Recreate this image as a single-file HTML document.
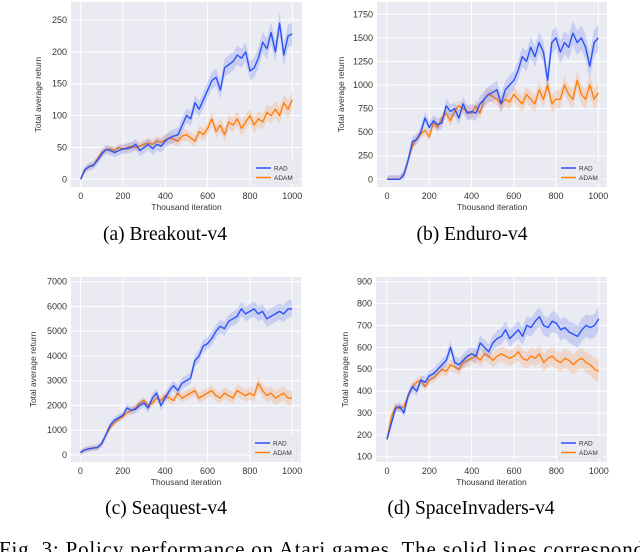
<!DOCTYPE html>
<html><head><meta charset="utf-8">
<style>
html,body{margin:0;padding:0;background:#fff;}
body{width:640px;height:552px;overflow:hidden;position:relative;}
svg{position:absolute;left:0;top:0;}
text{font-family:"Liberation Sans",sans-serif;}
.cap{font-family:"Liberation Serif",serif;}
</style></head>
<body>
<svg id="fig" width="640" height="552" viewBox="0 0 640 552">
<text class="cap" x="165" y="240" font-size="19.5" text-anchor="middle">(a)  Breakout-v4</text>
<text class="cap" x="472" y="240" font-size="19.5" text-anchor="middle">(b)  Enduro-v4</text>
<text class="cap" x="166" y="514" font-size="19.5" text-anchor="middle">(c)  Seaquest-v4</text>
<text class="cap" x="471" y="514" font-size="19.5" text-anchor="middle">(d)  SpaceInvaders-v4</text>
<text class="cap" x="-1" y="556" font-size="21" textLength="645" lengthAdjust="spacing">Fig. 3:  Policy performance on Atari games. The solid lines correspond</text>
</svg>
<script>
// ---- data ----
const xTicks = [0, 200, 400, 600, 800, 1000];
const seriesNames = ["RAD", "ADAM"];

const breakoutRAD = [0,15,20,22,30,40,47,45,42,45,48,48,50,55,45,50,55,48,55,52,60,65,68,70,85,100,95,120,110,125,140,155,160,140,175,180,185,195,190,200,170,175,190,215,205,230,200,245,195,225,228];
const breakoutADAM = [0,15,20,22,32,42,47,48,45,50,47,50,52,50,52,55,57,55,60,58,62,65,63,60,68,70,65,60,75,70,80,95,75,85,70,90,85,95,80,90,100,85,95,90,105,100,110,100,120,110,125];
const breakoutYTicks = [0,50,100,150,200,250];

const enduroRAD = [0,0,0,0,50,200,400,420,500,650,550,620,580,600,780,720,750,650,800,700,720,700,800,850,900,920,950,800,950,1000,1050,1150,1300,1250,1400,1300,1450,1350,1050,1450,1500,1350,1450,1400,1550,1450,1500,1400,1200,1450,1500];
const enduroADAM = [0,0,0,0,50,200,350,430,480,520,450,600,550,650,700,620,720,780,750,720,700,780,700,850,900,880,850,800,850,820,900,850,800,900,850,800,950,850,1000,800,850,850,1000,900,850,1050,900,850,1000,850,920];
const enduroYTicks = [0,250,500,750,1000,1250,1500,1750];

const seaquestRAD = [100,200,250,280,300,450,800,1200,1400,1500,1600,1900,1800,1850,2000,2100,1900,2300,2500,2000,2300,2600,2800,2600,2900,3000,3100,3800,4000,4400,4500,4700,5000,5200,5100,5400,5500,5600,5900,5700,5800,5900,5700,5800,5500,5600,5700,5800,5700,5900,5900];
const seaquestADAM = [100,200,250,280,300,450,800,1100,1300,1450,1550,1700,1800,1900,2100,2200,2000,2100,2300,2200,2400,2300,2200,2500,2300,2400,2500,2600,2300,2400,2500,2600,2400,2300,2500,2400,2300,2600,2500,2400,2500,2400,2900,2600,2400,2500,2300,2400,2500,2300,2300];
const seaquestYTicks = [0,1000,2000,3000,4000,5000,6000,7000];

const invadersRAD = [180,250,320,330,300,380,420,400,450,440,470,480,500,520,540,600,530,520,540,560,570,560,620,600,580,620,640,650,680,640,660,680,650,700,690,720,740,700,690,720,710,680,690,670,660,650,680,700,690,700,730];
const invadersADAM = [180,280,330,320,330,380,420,440,450,420,450,460,480,500,490,520,510,500,530,540,550,560,540,570,560,540,560,570,560,550,560,580,550,540,560,550,570,530,550,560,540,530,550,540,520,540,550,530,520,500,490];
const invadersYTicks = [100,200,300,400,500,600,700,800,900];

const spreads = {breakout:[18,14], enduro:[140,110], seaquest:[350,300], invaders:[55,50]};

// ---- layout ----
const charts = [
  {key:"breakout", rad:breakoutRAD, adam:breakoutADAM, yt:breakoutYTicks,
   box:[71,2,302,187], x0:80.7, x1:292.3, y0v:0, y0p:179.3, y1v:250, y1p:20, ylabX:41},
  {key:"enduro", rad:enduroRAD, adam:enduroADAM, yt:enduroYTicks,
   box:[377,2,607,187], x0:387, x1:598.3, y0v:0, y0p:179.3, y1v:1750, y1p:14.3, ylabX:344},
  {key:"seaquest", rad:seaquestRAD, adam:seaquestADAM, yt:seaquestYTicks,
   box:[71,277,301,462], x0:80.4, x1:292.2, y0v:0, y0p:455, y1v:7000, y1p:281.7, ylabX:36},
  {key:"invaders", rad:invadersRAD, adam:invadersADAM, yt:invadersYTicks,
   box:[376,277,607,462], x0:387, x1:598.8, y0v:100, y0p:456.7, y1v:900, y1p:281.7, ylabX:348}
];
const NS = "http://www.w3.org/2000/svg";
const svg = document.getElementById("fig");
function mk(tag, attrs, parent){ const e=document.createElementNS(NS,tag); for(const k in attrs) e.setAttribute(k,attrs[k]); (parent||svg).appendChild(e); return e; }
const COL = {RAD:"#2a52f5", ADAM:"#ff7f0e"};

charts.forEach(c=>{
  const g = mk("g",{});
  
  
  const [L,T,R,B] = c.box;
  const xs = v => c.x0 + (v/1000)*(c.x1-c.x0);
  const ys = v => c.y0p + (v-c.y0v)/(c.y1v-c.y0v)*(c.y1p-c.y0p);
  const bg = mk("rect",{x:L,y:T,width:R-L,height:B-T,fill:"#eaeaf2"},g);
  
  
  xTicks.forEach(t=>{
    const ln = mk("line",{x1:xs(t),x2:xs(t),y1:T,y2:B,stroke:"#fff","stroke-width":1},g);
    
    
    const tx = mk("text",{x:xs(t),y:B+12,"font-size":9,"text-anchor":"middle",fill:"#333"},g);
    tx.textContent = t;
    
    
  });
  c.yt.forEach(t=>{
    const ln = mk("line",{x1:L,x2:R,y1:ys(t),y2:ys(t),stroke:"#fff","stroke-width":1},g);
    
    
    const tx = mk("text",{x:L-4,y:ys(t)+3,"font-size":9,"text-anchor":"end",fill:"#333"},g);
    tx.textContent = t;
    
    
  });
  const xl = mk("text",{x:(L+R)/2,y:B+23,"font-size":8.5,"text-anchor":"middle",fill:"#333"},g);
  xl.textContent = "Thousand iteration";
  
  
  const cy = (T+B)/2;
  const yl = mk("text",{x:c.ylabX,y:cy,"font-size":8.5,"text-anchor":"middle",fill:"#333",transform:`rotate(-90 ${c.ylabX} ${cy})`},g);
  yl.textContent = "Total average return";
  
  

  [["ADAM",c.adam,spreads[c.key][1]],["RAD",c.rad,spreads[c.key][0]]].forEach(([name,arr,sp])=>{
    const n = arr.length;
    const px = i => xs(i*1000/(n-1));
    let up=[],dn=[];
    arr.forEach((v,i)=>{ const s = sp*(0.3+0.7*i/(n-1)); up.push(px(i).toFixed(1)+","+ys(v+s).toFixed(1)); dn.push(px(i).toFixed(1)+","+ys(Math.max(c.y0v,v-s)).toFixed(1)); });
    const band = mk("polygon",{points:up.concat(dn.reverse()).join(" "),fill:COL[name],"fill-opacity":0.18},g);
    
    
    const pts = arr.map((v,i)=>px(i).toFixed(1)+","+ys(v).toFixed(1)).join(" ");
    const line = mk("polyline",{points:pts,fill:"none",stroke:COL[name],"stroke-width":1.4,"stroke-linejoin":"round"},g);
    
    
  });
  // legend
  const lg = mk("g",{},g);
  
  
  const lx = R-49, ly = B-25;
  mk("rect",{x:lx,y:ly,width:45,height:21,fill:"#eaeaf2",stroke:"#ddd","stroke-width":0.6,rx:1.5},lg);
  seriesNames.forEach((nm,i)=>{
    const yy = ly+6+i*9.5;
    const sw = mk("line",{x1:lx+3,x2:lx+18,y1:yy,y2:yy,stroke:COL[nm],"stroke-width":1.5},lg);
    
    
    const t = mk("text",{x:lx+21,y:yy+2.5,"font-size":6.5,fill:"#333"},lg);
    t.textContent = nm;
    
    
  });
});
</script>
</body></html>
